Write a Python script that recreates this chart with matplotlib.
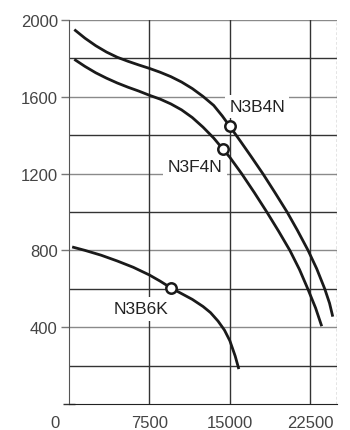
#!/usr/bin/python3
# encoding:utf-8
"""
Fan curves chart N3B4N / N3F4N / N3B6K
"""

import matplotlib
matplotlib.use("Agg")
import matplotlib.pyplot as plt
from matplotlib.transforms import ScaledTranslation

plt.rcParams['font.family'] = ['Liberation Sans', 'DejaVu Sans']

# Curves (x: flow, y: pressure)
b4n_x = [500, 1500, 2500, 3500, 4500, 5500, 6500, 7500, 8500, 9500, 10500, 11500,
         12500, 13500, 14300, 15000, 16000, 17000, 18100, 19200, 20340, 21300,
         22300, 23100, 23850, 24300, 24600]
b4n_y = [1950, 1905, 1866, 1833, 1806, 1785, 1766, 1748, 1728, 1705, 1677, 1643,
         1602, 1555, 1500, 1446, 1368, 1288, 1198, 1102, 1000, 905,
         800, 705, 600, 525, 455]

f4n_x = [500, 1500, 2500, 3500, 4500, 5500, 6500, 7500, 8500, 9500, 10500, 11500,
         12500, 13500, 14320, 15000, 16100, 17300, 18450, 19550, 20600, 21500,
         22270, 23000, 23570]
f4n_y = [1795, 1758, 1725, 1697, 1672, 1650, 1630, 1608, 1588, 1563, 1532, 1492,
         1442, 1385, 1330, 1285, 1200, 1100, 1000, 900, 800, 700,
         600, 500, 405]

b6k_x = [300, 1500, 3000, 4500, 6000, 7500, 8500, 9500, 10500, 11500, 12500,
         13200, 13900, 14500, 15000, 15500, 15840]
b6k_y = [818, 800, 775, 745, 712, 672, 640, 605, 575, 545, 508,
         476, 432, 385, 330, 250, 182]

# Marked operating points
names = ["N3B4N", "N3F4N", "N3B6K"]
mark_x = [15000, 14320, 9500]
mark_y = [1446, 1330, 605]
label_x = [17550, 11750, 6700]
label_y = [1550, 1238, 495]

x_ticks = [0, 7500, 15000, 22500]
y_ticks = [400, 800, 1200, 1600, 2000]


def main():
    fig = plt.figure(figsize=(3.5, 4.31), dpi=100)
    ax = fig.add_axes([0.197, 0.0603, 0.766, 0.891])
    ax.set_xlim(0, 25000)
    ax.set_ylim(0, 2000)

    # grid
    for y in range(200, 2001, 200):
        col = '#8a8a8a' if y % 400 == 0 else '#333333'
        ax.axhline(y, color=col, lw=1.0, zorder=1)
    for x in x_ticks[1:]:
        ax.axvline(x, color='#333333', lw=1.0, zorder=1)

    for side in ['top', 'right']:
        ax.spines[side].set_visible(False)
    ax.spines['left'].set_color('#555555')
    ax.spines['bottom'].set_color('#222222')
    ax.axvline(25000, color='#777777', lw=1.0, ls=(0, (2, 1.5)), zorder=1)

    ax.set_xticks(x_ticks)
    ax.set_yticks(y_ticks)
    # small cross at the origin
    ax.set_xticks([0], minor=True)
    ax.set_yticks([0], minor=True)
    ax.tick_params(which='minor', length=8, width=1, color='#333333', direction='inout')
    ax.tick_params(axis='y', length=6, width=1, color='#777777',
                   labelsize=12, labelcolor='#444444', pad=2)
    ax.tick_params(axis='x', length=0, labelsize=12, labelcolor='#444444', pad=8)
    ax.set_xticklabels(x_ticks)
    zero = ax.get_xticklabels()[0]
    zero.set_transform(zero.get_transform() + ScaledTranslation(-14 / 100, 0, fig.dpi_scale_trans))

    for xs, ys in [(b4n_x, b4n_y), (f4n_x, f4n_y), (b6k_x, b6k_y)]:
        ax.plot(xs, ys, color='#1a1a1a', lw=2.0, solid_capstyle='butt',
                solid_joinstyle='round', zorder=3)

    ax.plot(mark_x, mark_y, 'o', ms=7.5, mfc='white', mec='#1a1a1a', mew=1.8,
            ls='none', zorder=4)

    for name, lx, ly in zip(names, label_x, label_y):
        ax.text(lx, ly, name, fontsize=12.5, color='#222222', ha='center', va='center',
                zorder=2, bbox=dict(boxstyle='square,pad=0.25', fc='white', ec='none'))

    fig.savefig("out.png", dpi=100)


if __name__ == "__main__":
    main()
